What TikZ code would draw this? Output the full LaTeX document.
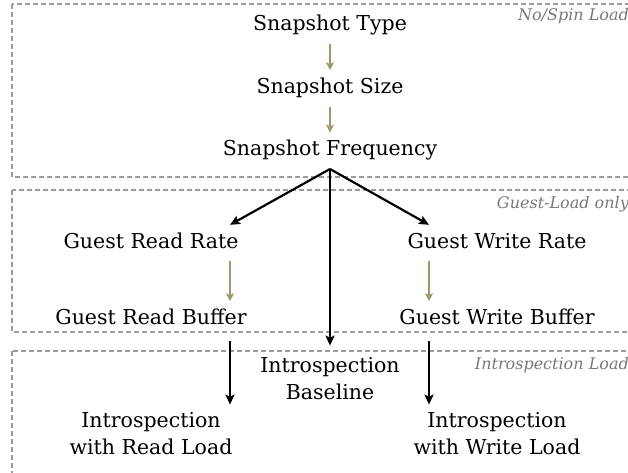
\documentclass[tikz,border=0pt]{standalone}
\usepackage{fontspec}
\setmainfont{DejaVu Serif}
\usetikzlibrary{positioning, arrows.meta}
\definecolor{grpgray}{RGB}{155,155,155}
\definecolor{titlegray}{RGB}{120,120,120}
\definecolor{stepolive}{RGB}{160,150,108}
\tikzstyle{stage} = [
  text height=15pt, text depth=5pt,
  inner xsep=0pt, inner ysep=8pt,
  align=center, text=black
]
\tikzstyle{grp} = [
  draw=grpgray, line width=1.3pt,
  dash pattern=on 5pt off 3pt
]
\tikzstyle{grptitle} = [
  anchor=east, inner sep=0pt,
  font=\fontsize{16}{19}\selectfont\itshape, text=titlegray
]
\tikzset{
  arrow/.style={
    line width=2.2pt,
    -{Stealth[length=10pt,width=9pt,inset=2pt]}
  },
  subarrow/.style={
    line width=2pt, draw=stepolive,
    -{Stealth[length=8pt,width=8pt,inset=2pt]}
  }
}

\begin{document}
\begin{tikzpicture}[
  x=1pt, y=1pt,
  font=\fontsize{20.5}{27}\selectfont,
  node distance=26pt and 26pt
]
\useasboundingbox (0,0) rectangle (628,-473);

% ------------------------------------------------
% GRUPOS (cajas discontinuas)
% ------------------------------------------------
\draw[grp] (12,-4) rectangle (640,-177);
\draw[grp] (12,-190) rectangle (640,-332);
\draw[grp] (12,-351) rectangle (640,-490);

\node[grptitle] (t1) at (629,-16) {No/Spin Load};
\node[grptitle] (t2) at (629,-204) {Guest-Load only};
\node[grptitle] (t3) at (629,-365) {Introspection Load};

% ------------------------------------------------
% SNAPSHOT (arriba)
% ------------------------------------------------
\node[stage] (type) at (330,-26) {Snapshot Type};
\node[stage, below=of type] (size) {Snapshot Size};
\node[stage, below=of size] (freq) {Snapshot Frequency};

% ------------------------------------------------
% GUEST LOAD (medio)
% ------------------------------------------------
\node[stage] (grate) at (151,-243) {Guest Read Rate};
\node[stage, below=40pt of grate] (gbuf) {Guest Read Buffer};

\node[stage] (wrate) at (497,-243) {Guest Write Rate};
\node[stage, below=40pt of wrate] (wbuf) {Guest Write Buffer};

% ------------------------------------------------
% INTROSPECTION (abajo)
% ------------------------------------------------
\node[align=center, inner sep=0pt] (base) at (330,-379) {%
  Introspection\\
  Baseline
};
\node[align=center, inner sep=0pt] (iread) at (151,-434) {%
  Introspection\\
  with Read Load
};
\node[align=center, inner sep=0pt] (iwrite) at (497,-434) {%
  Introspection\\
  with Write Load
};

% ------------------------------------------------
% FLECHAS
% ------------------------------------------------

% Snapshot
\draw[subarrow] (type) -- (size);
\draw[subarrow] (size) -- (freq);

% Frequency -> guest / baseline
\draw[arrow] (freq.south) -- ([xshift=79pt]grate.north);
\draw[arrow] (freq.south) -- ([xshift=-68pt]wrate.north);
\draw[arrow] (freq.south) -- ([yshift=12pt]base.north);

% Rate -> buffer
\draw[subarrow] ([xshift=79pt]grate.south) -- ([xshift=79pt]gbuf.north);
\draw[subarrow] ([xshift=-68pt]wrate.south) -- ([xshift=-68pt]wbuf.north);

% Buffer -> introspection
\draw[arrow, shorten <=3pt] ([xshift=79pt]gbuf.south) -- ([xshift=79pt,yshift=8pt]iread.north);
\draw[arrow, shorten <=3pt] ([xshift=-68pt]wbuf.south) -- ([xshift=-68pt,yshift=8pt]iwrite.north);

\end{tikzpicture}
\end{document}
